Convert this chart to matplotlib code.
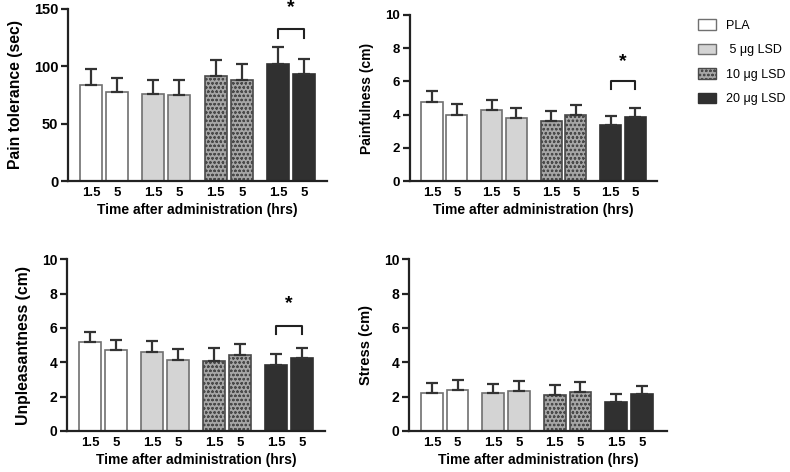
import numpy as np
import matplotlib.pyplot as plt
from matplotlib.patches import Patch

plt.rcParams['font.family'] = ['Liberation Sans', 'DejaVu Sans']
plt.rcParams['hatch.linewidth'] = 0.6

# groups and time points
groups = ['PLA', ' 5 \u03bcg LSD', '10 \u03bcg LSD', '20 \u03bcg LSD']
times = ['1.5', '5']

# means and SEM, order: PLA 1.5, PLA 5, 5ug 1.5, 5ug 5, 10ug 1.5, 10ug 5, 20ug 1.5, 20ug 5
pain_tol = [84.1, 77.2, 76.0, 75.4, 91.4, 88.5, 102.4, 93.1]
pain_tol_err = [13.9, 12.4, 12.5, 13.1, 13.9, 13.9, 14.8, 13.7]

painful = [4.73, 3.98, 4.29, 3.82, 3.64, 3.98, 3.38, 3.84]
painful_err = [0.66, 0.65, 0.56, 0.57, 0.56, 0.61, 0.54, 0.55]

unpleas = [5.18, 4.70, 4.62, 4.16, 4.10, 4.41, 3.86, 4.23]
unpleas_err = [0.61, 0.62, 0.64, 0.62, 0.72, 0.64, 0.61, 0.59]

stress = [2.23, 2.39, 2.21, 2.33, 2.10, 2.25, 1.67, 2.17]
stress_err = [0.55, 0.58, 0.55, 0.58, 0.58, 0.58, 0.47, 0.47]

# significance bracket: (bracket top, tick bottom, star y)
sig_pain_tol = (132.9, 125.0, 151.5)
sig_painful = (6.04, 5.53, 7.2)
sig_unpleas = (6.1, 5.63, 7.4)

face = ['white', '#d4d4d4', '#a6a6a6', '#303030']
edge = ['#707070', '#707070', '#4a4a4a', '#303030']
hatch = [None, None, 'oooo', None]

x = np.array([g * 2.4 + i for g in range(4) for i in range(2)])
W = 0.85


def panel(rect, vals, errs, ymax, ystep, ylabel, sig=None, xr=9.08,
          ylsize=10, ticksize=9.5):
    ax = fig.add_axes(rect)
    for k in range(8):
        g = k // 2
        ax.bar(x[k], vals[k], W, color=face[g], edgecolor=edge[g],
               hatch=hatch[g], linewidth=1.2, zorder=2)
    ax.errorbar(x, vals, yerr=[np.zeros(8), errs], fmt='none',
                ecolor='#333333', elinewidth=1.6, capsize=4, capthick=1.6,
                zorder=3)
    ax.set_ylim(0, ymax)
    ax.set_xlim(-0.885, xr)
    ax.set_yticks(np.arange(0, ymax + 0.01, ystep))
    ax.set_xticks(x)
    ax.set_xticklabels(times * 4)
    for s in ['top', 'right']:
        ax.spines[s].set_visible(False)
    for s in ['left', 'bottom']:
        ax.spines[s].set_linewidth(1.6)
        ax.spines[s].set_color('#222222')
    ax.tick_params(axis='x', length=0, pad=4, labelsize=9.5)
    ax.tick_params(axis='y', length=5, width=1.6, color='#222222',
                   labelsize=ticksize, pad=2)
    for lab in ax.get_xticklabels() + ax.get_yticklabels():
        lab.set_fontweight('bold')
    ax.set_xlabel('Time after administration (hrs)', fontsize=10,
                  fontweight='bold', labelpad=3)
    ax.set_ylabel(ylabel, fontsize=ylsize, fontweight='bold', labelpad=8)
    if sig is not None:
        top, bot, star = sig
        ax.plot([x[6], x[6], x[7], x[7]], [bot, top, top, bot],
                color='#222222', lw=1.5, clip_on=False, zorder=4)
        ax.text((x[6] + x[7]) / 2, star, '*', ha='center', va='center',
                fontsize=14, fontweight='bold', clip_on=False)
    return ax


fig = plt.figure(figsize=(7.9, 4.72), dpi=100)

panel([0.086, 0.6165, 0.328, 0.3645], pain_tol, pain_tol_err, 150, 50,
      'Pain tolerance (sec)', sig_pain_tol, ylsize=11.3, ticksize=10.5)
panel([0.519, 0.6165, 0.313, 0.352], painful, painful_err, 10, 2,
      'Painfulness (cm)', sig_painful, ylsize=10, ticksize=9.5)
panel([0.085, 0.0869, 0.326, 0.364], unpleas, unpleas_err, 10, 2,
      'Unpleasantness (cm)', sig_unpleas, ylsize=11.3, ticksize=10)
panel([0.518, 0.0869, 0.326, 0.364], stress, stress_err, 10, 2,
      'Stress (cm)', None, xr=9.17, ylsize=10.5, ticksize=10)

handles = [Patch(facecolor=face[g], edgecolor=edge[g], hatch=hatch[g],
                 linewidth=1.0) for g in range(4)]
fig.legend(handles, groups, loc='upper left', bbox_to_anchor=(0.875, 0.972),
           frameon=False, fontsize=9, handlelength=1.45, handleheight=0.9,
           handletextpad=0.8, labelspacing=0.95, borderpad=0)

fig.savefig('out.png', dpi=100)
